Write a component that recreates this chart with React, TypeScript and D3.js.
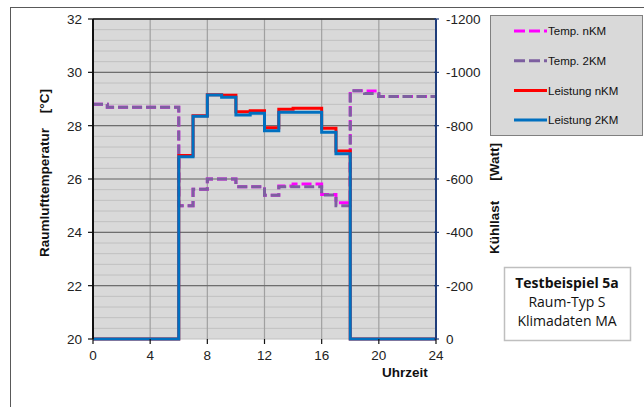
import React from "react";
import * as d3 from "d3";

// Stundenwerte 0..23 (Stufe gilt ab der jeweiligen Stunde)
const hours = d3.range(0, 25);
const tempNKM = [28.8, 28.69, 28.69, 28.69, 28.69, 28.69, 25.0, 25.62, 26.0, 26.0, 25.71, 25.71, 25.39, 25.74, 25.81, 25.81, 25.42, 25.11, 29.31, 29.3, 29.09, 29.09, 29.09, 29.09];
const temp2KM = [28.8, 28.69, 28.69, 28.69, 28.69, 28.69, 25.0, 25.62, 26.0, 26.0, 25.71, 25.71, 25.39, 25.71, 25.71, 25.71, 25.4, 25.0, 29.31, 29.21, 29.09, 29.09, 29.09, 29.09];
const powerNKM = [0, 0, 0, 0, 0, 0, -688, -837, -916, -914, -852, -856, -792, -862, -865, -865, -790, -705, 0, 0, 0, 0, 0, 0];
const power2KM = [0, 0, 0, 0, 0, 0, -683, -835, -915, -907, -840, -847, -781, -850, -850, -850, -775, -695, 0, 0, 0, 0, 0, 0];

const xTicks = [0, 4, 8, 12, 16, 20, 24];
const tempTicks = [20, 22, 24, 26, 28, 30, 32];
const powerTicks = [0, -200, -400, -600, -800, -1000, -1200];

const legendItems = [
  { label: "Temp. nKM", color: "#FF00FF", dashed: true },
  { label: "Temp. 2KM", color: "#7D5FA0", dashed: true },
  { label: "Leistung nKM", color: "#FF0000", dashed: false },
  { label: "Leistung 2KM", color: "#0070C0", dashed: false },
];

const infoLines = ["Testbeispiel 5a", "Raum-Typ S", "Klimadaten MA"];

const W = 644;
const H = 407;
const left = 93;
const right = 436;
const top = 19;
const bottom = 339;
const font = "'Liberation Sans', Arial, sans-serif";

export default function App() {
  const x = d3.scaleLinear().domain([0, 24]).range([left, right]);
  const yT = d3.scaleLinear().domain([20, 32]).range([bottom, top]);
  const yP = d3.scaleLinear().domain([0, -1200]).range([bottom, top]);

  // Stufenlinie: letzter Wert bis 24 Uhr weiterführen
  const ext = (v: number[]) => hours.map((h) => ({ h, v: v[Math.min(h, v.length - 1)] }));
  const lineT = d3
    .line<{ h: number; v: number }>()
    .x((d) => x(d.h))
    .y((d) => yT(d.v))
    .curve(d3.curveStepAfter);
  const lineP = d3
    .line<{ h: number; v: number }>()
    .x((d) => x(d.h))
    .y((d) => yP(d.v))
    .curve(d3.curveStepAfter);

  const minorT = d3.range(20, 32.001, 0.4);

  return (
    <svg
      width={W}
      height={H}
      style={{ position: "absolute", left: 0, top: 0, background: "#fff" }}
      fontFamily={font}
    >
      {/* äußerer Rahmen */}
      <rect x={10.5} y={7.5} width={700} height={500} fill="#fff" stroke="#595959" strokeWidth={1} />

      {/* Plotfläche */}
      <rect x={left} y={top} width={right - left} height={bottom - top} fill="#D9D9D9" />
      {minorT.map((t, i) => (
        <line key={"m" + i} x1={left} x2={right} y1={yT(t)} y2={yT(t)} stroke="#C0C0C0" strokeWidth={1} />
      ))}
      {xTicks.slice(1, -1).map((t) => (
        <line key={"v" + t} x1={x(t)} x2={x(t)} y1={top} y2={bottom} stroke="#A0A0A0" strokeWidth={1.2} />
      ))}
      {tempTicks.slice(1).map((t) => (
        <line key={"g" + t} x1={left} x2={right} y1={yT(t)} y2={yT(t)} stroke="#6E6E6E" strokeWidth={1.2} />
      ))}
      <line x1={left} x2={right} y1={top} y2={top} stroke="#222" strokeWidth={1.5} />

      {/* Temperaturen (Primärachse) */}
      <path d={lineT(ext(tempNKM)) || ""} fill="none" stroke="#FF00FF" strokeWidth={3} strokeDasharray="10,4" />
      <path d={lineT(ext(temp2KM)) || ""} fill="none" stroke="#7D5FA0" strokeWidth={3} strokeDasharray="10,4" />

      {/* Leistungen (Sekundärachse) */}
      <path d={lineP(ext(powerNKM)) || ""} fill="none" stroke="#FF0000" strokeWidth={3} />
      <path d={lineP(ext(power2KM)) || ""} fill="none" stroke="#0070C0" strokeWidth={3} />

      {/* linke Achse */}
      <line x1={left} x2={left} y1={top} y2={bottom} stroke="#111" strokeWidth={2} />
      {tempTicks.map((t) => (
        <g key={"lt" + t}>
          <line x1={left - 5} x2={left} y1={yT(t)} y2={yT(t)} stroke="#111" strokeWidth={1.2} />
          <text x={82} y={yT(t)} dy="0.36em" textAnchor="end" fontSize={13.5} fill="#222">
            {t}
          </text>
        </g>
      ))}

      {/* rechte Achse */}
      <line x1={right} x2={right} y1={top} y2={bottom} stroke="#1F3D7A" strokeWidth={2} />
      {powerTicks.map((t) => (
        <g key={"rt" + t}>
          <line x1={right - 2} x2={right + 3} y1={yP(t)} y2={yP(t)} stroke="#1F3D7A" strokeWidth={1.2} />
          <text x={446} y={yP(t)} dy="0.36em" textAnchor="start" fontSize={13.5} fill="#222">
            {t}
          </text>
        </g>
      ))}

      {/* x-Achse */}
      {xTicks.map((t) => (
        <g key={"xt" + t}>
          <line x1={x(t)} x2={x(t)} y1={bottom} y2={bottom + 5} stroke="#111" strokeWidth={1.2} />
          <text x={x(t)} y={360} textAnchor="middle" fontSize={13.5} fill="#222">
            {t}
          </text>
        </g>
      ))}
      <text x={405} y={377} textAnchor="middle" fontSize={13.5} fontWeight="bold" fill="#111">
        Uhrzeit
      </text>

      {/* Achsentitel links */}
      <g transform="translate(48.5,0) rotate(-90)">
        <text x={-257} y={0} textAnchor="start" fontSize={13.5} fontWeight="bold" fill="#111">
          Raumlufttemperatur
        </text>
        <text x={-89} y={0} textAnchor="end" fontSize={13.5} fontWeight="bold" fill="#111">
          [°C]
        </text>
      </g>

      {/* Achsentitel rechts */}
      <g transform="translate(499,0) rotate(-90)">
        <text x={-254} y={0} textAnchor="start" fontSize={13.5} fontWeight="bold" fill="#111">
          Kühllast
        </text>
        <text x={-143} y={0} textAnchor="end" fontSize={13.5} fontWeight="bold" fill="#111">
          [Watt]
        </text>
      </g>

      {/* Legende */}
      <rect x={490.5} y={15.5} width={152} height={120} fill="#D9D9D9" stroke="#808080" strokeWidth={1} />
      {legendItems.map((d, i) => {
        const yy = 31 + i * 29.7;
        return (
          <g key={d.label}>
            <line
              x1={514}
              x2={547}
              y1={yy}
              y2={yy}
              stroke={d.color}
              strokeWidth={3}
              strokeDasharray={d.dashed ? "11,4" : undefined}
            />
            <text x={548} y={yy} dy="0.36em" fontSize={11.5} fill="#111">
              {d.label}
            </text>
          </g>
        );
      })}

      {/* Infobox */}
      <rect x={504.5} y={267.5} width={126} height={73} fill="#fff" stroke="#BFBFBF" strokeWidth={1.5} />
      {infoLines.map((s, i) => (
        <text
          key={s}
          x={567}
          y={287.5 + i * 19}
          textAnchor="middle"
          fontSize={14}
          fontWeight={i === 0 ? "bold" : "normal"}
          fontFamily="'Open Sans', 'Noto Sans', sans-serif"
          fill="#111"
        >
          {s}
        </text>
      ))}
    </svg>
  );
}
